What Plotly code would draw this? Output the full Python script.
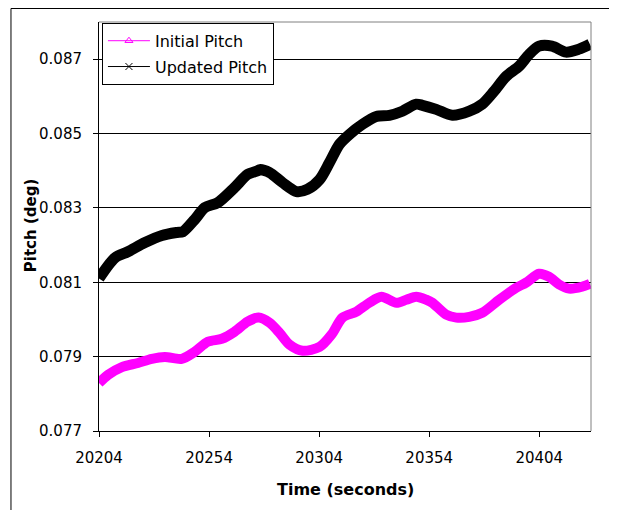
import plotly.graph_objects as go

# ---- data ----
updated_time = [20204.0, 20211.3, 20217.1, 20224.9, 20232.6, 20239.4, 20242.1, 20247.5,
                20252.1, 20257.9, 20265.6, 20271.5, 20276.1, 20277.0, 20281.5, 20287.4,
                20293.7, 20298.7, 20304.2, 20308.7, 20313.2, 20317.8, 20323.7, 20330.0,
                20335.9, 20341.8, 20348.1, 20350.9, 20357.2, 20364.5, 20372.2, 20378.1,
                20383.5, 20389.0, 20394.8, 20399.4, 20403.9, 20409.8, 20416.1, 20422.0,
                20427.0]
updated_pitch = [0.08110, 0.08166, 0.08182, 0.08207, 0.08226, 0.08234, 0.08236, 0.08269,
                 0.08301, 0.08314, 0.08355, 0.08390, 0.08400, 0.08403, 0.08395, 0.08368,
                 0.08344, 0.08350, 0.08376, 0.08422, 0.08471, 0.08498, 0.08525, 0.08546,
                 0.08549, 0.08560, 0.08579, 0.08576, 0.08565, 0.08549, 0.08560, 0.08579,
                 0.08614, 0.08654, 0.08681, 0.08713, 0.08735, 0.08735, 0.08719, 0.08727,
                 0.08740]

initial_time = [20204.0, 20208.1, 20214.4, 20221.7, 20228.0, 20233.9, 20241.6, 20247.5,
                20253.4, 20259.8, 20265.6, 20271.5, 20276.5, 20281.5, 20286.0, 20290.6,
                20296.5, 20304.2, 20309.6, 20314.6, 20321.0, 20326.8, 20332.3, 20339.1,
                20343.6, 20348.1, 20352.7, 20355.4, 20361.7, 20366.3, 20372.2, 20378.1,
                20385.8, 20393.5, 20398.0, 20403.9, 20408.4, 20413.0, 20417.5, 20423.4,
                20427.0]
initial_pitch = [0.07829, 0.07851, 0.07872, 0.07883, 0.07894, 0.07899, 0.07894, 0.07913,
                 0.07940, 0.07948, 0.07967, 0.07994, 0.08005, 0.07991, 0.07964, 0.07932,
                 0.07916, 0.07926, 0.07959, 0.08005, 0.08021, 0.08045, 0.08061, 0.08045,
                 0.08053, 0.08061, 0.08053, 0.08045, 0.08013, 0.08005, 0.08007, 0.08018,
                 0.08053, 0.08085, 0.08099, 0.08123, 0.08115, 0.08094, 0.08083, 0.08088,
                 0.08096]

x_ticks = [20204, 20254, 20304, 20354, 20404]
y_ticks = [0.077, 0.079, 0.081, 0.083, 0.085, 0.087]
y_tick_labels = ["0.077", "0.079", "0.081", "0.083", "0.085", "0.087"]

FONT = "DejaVu Sans, Arial, sans-serif"

fig = go.Figure()

fig.add_trace(go.Scatter(x=initial_time, y=initial_pitch, mode="lines",
                         line=dict(color="#FF00FF", width=10, shape="spline", smoothing=0.8),
                         showlegend=False))
fig.add_trace(go.Scatter(x=updated_time, y=updated_pitch, mode="lines",
                         line=dict(color="#000000", width=11, shape="spline", smoothing=0.8),
                         showlegend=False))

# legend-only entries
fig.add_trace(go.Scatter(x=[None], y=[None], mode="lines+markers", name="Initial Pitch",
                         legendgroup="a",
                         line=dict(color="#FF00FF", width=1),
                         marker=dict(symbol="triangle-up-open", size=7, color="#FF00FF")))
fig.add_trace(go.Scatter(x=[None], y=[None], mode="lines+markers", name="Updated Pitch",
                         legendgroup="b",
                         line=dict(color="#000000", width=1),
                         marker=dict(symbol="x-thin-open", size=7, color="#000000",
                                     line=dict(width=1, color="#000000"))))

# page body has an 8px margin, so the figure is shrunk and shifted accordingly
fig.update_layout(
    width=609, height=502,
    margin=dict(l=91, r=26, t=14, b=79),
    paper_bgcolor="white", plot_bgcolor="white",
    font=dict(family=FONT, size=15, color="black"),
    legend=dict(x=0.006, y=0.998, xanchor="left", yanchor="top",
                bgcolor="white", bordercolor="black", borderwidth=1,
                font=dict(family=FONT, size=16, color="black"),
                tracegroupgap=2, itemwidth=42),
    xaxis=dict(range=[20204, 20427.5], tickvals=x_ticks, ticktext=[str(v) for v in x_ticks],
               showgrid=False, zeroline=False, showline=True, linecolor="black", linewidth=1,
               ticks="outside", ticklen=5, tickcolor="black", ticklabelstandoff=8,
               tickfont=dict(family=FONT, size=15, color="black")),
    yaxis=dict(range=[0.077, 0.088], tickvals=y_ticks, ticktext=y_tick_labels,
               showgrid=True, gridcolor="black", gridwidth=1, zeroline=False,
               showline=True, linecolor="black", linewidth=1,
               ticks="outside", ticklen=5, tickcolor="black", ticklabelstandoff=8,
               tickfont=dict(family=FONT, size=15, color="black")),
    annotations=[
        dict(text="<b>Pitch (deg)</b>", xref="paper", yref="paper", x=-0.138, y=0.501,
             textangle=-90, showarrow=False, xanchor="center", yanchor="middle",
             font=dict(family=FONT, size=15, color="black")),
        dict(text="<b>Time (seconds)</b>", xref="paper", yref="paper", x=0.5, y=-0.144,
             showarrow=False, xanchor="center", yanchor="middle",
             font=dict(family=FONT, size=16, color="black")),
    ],
    shapes=[
        dict(type="line", xref="paper", yref="paper", x0=0, x1=1, y0=1, y1=1,
             line=dict(color="#808080", width=1)),
        dict(type="line", xref="paper", yref="paper", x0=1, x1=1, y0=0, y1=1,
             line=dict(color="#808080", width=1)),
        dict(type="rect", xref="paper", yref="paper", x0=-0.1789, x1=1.07, y0=-0.21, y1=1.033,
             line=dict(color="black", width=1), fillcolor="rgba(0,0,0,0)", layer="below"),
    ],
)

fig.write_html("out.html")
